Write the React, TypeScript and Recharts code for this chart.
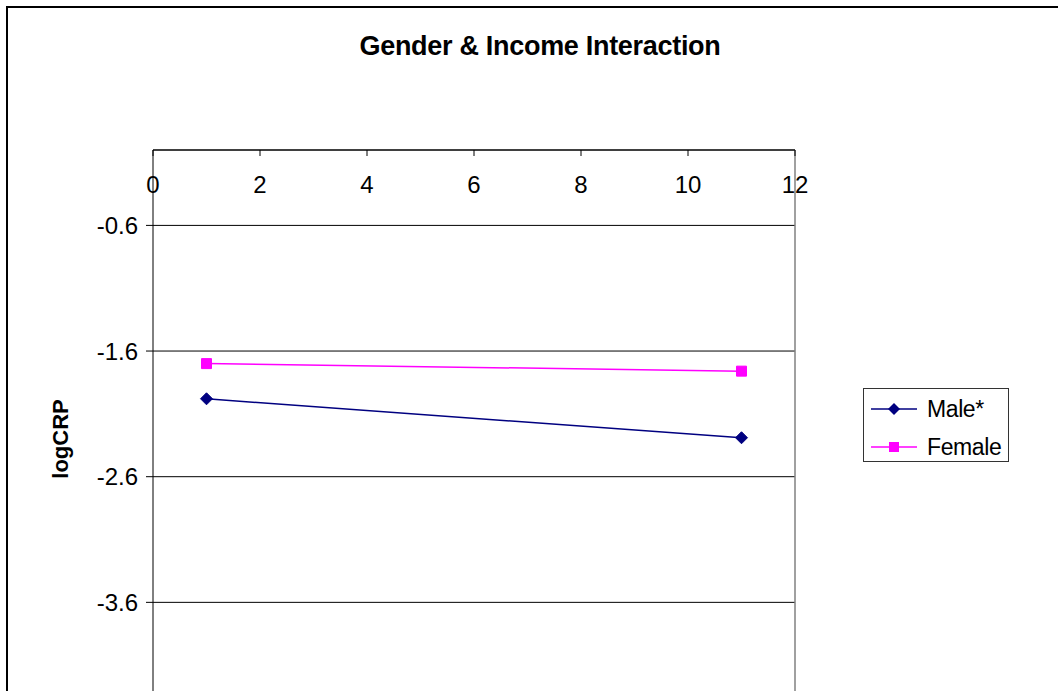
import { CartesianGrid, Line, LineChart, ReferenceLine, XAxis, YAxis } from "recharts";

const INCOME = [1, 11];
const MALE = [-1.98, -2.29];
const FEMALE = [-1.7, -1.76];
const X_TICKS = [0, 2, 4, 6, 8, 10, 12];
const Y_TICKS = [-4.6, -3.6, -2.6, -1.6, -0.6];

const SERIES = [
  { key: "male", name: "Male*", color: "#000080", shape: "diamond" },
  { key: "female", name: "Female", color: "#FF00FF", shape: "square" },
];

const data = INCOME.map((income, i) => ({ income, male: MALE[i], female: FEMALE[i] }));

const FONT = "'Liberation Sans', Arial, sans-serif";

function markerPath(shape: string, cx: number, cy: number) {
  if (shape === "diamond") {
    return `M${cx},${cy - 6}L${cx + 6},${cy}L${cx},${cy + 6}L${cx - 6},${cy}Z`;
  }
  return `M${cx - 5},${cy - 5}h10v10h-10Z`;
}

function makeDot(shape: string, color: string) {
  return (props: any) => {
    const { cx, cy, index } = props;
    if (cx == null || cy == null) return <g key={`d-${shape}-${index}`} />;
    return <path key={`d-${shape}-${index}`} d={markerPath(shape, cx, cy)} fill={color} stroke={color} />;
  };
}

function LegendBox() {
  return (
    <div
      style={{
        position: "absolute",
        left: 863,
        top: 388,
        width: 144,
        height: 72,
        border: "1px solid #333",
        background: "#fff",
      }}
    >
      {SERIES.map((s, i) => (
        <div
          key={s.key}
          style={{ position: "absolute", left: 7, top: 6 + i * 38, height: 28, display: "flex", alignItems: "center" }}
        >
          <svg width={48} height={28}>
            <line x1={0} y1={14} x2={46} y2={14} stroke={s.color} strokeWidth={1.5} />
            <path d={markerPath(s.shape, 23, 14)} fill={s.color} />
          </svg>
          <span style={{ marginLeft: 8, fontSize: 23, fontFamily: FONT, letterSpacing: -0.4, color: "#000" }}>{s.name}</span>
        </div>
      ))}
    </div>
  );
}

export default function App() {
  return (
    <div
      style={{
        position: "absolute",
        left: 0,
        top: 0,
        width: 1058,
        height: 691,
        overflow: "hidden",
        background: "#fff",
        fontFamily: FONT,
      }}
    >
      <div
        style={{
          position: "absolute",
          left: 6,
          top: 6,
          width: 1100,
          height: 800,
          border: "2px solid #000",
        }}
      />
      <div
        style={{
          position: "absolute",
          left: 0,
          top: 31,
          width: 1080,
          textAlign: "center",
          fontSize: 27,
          fontWeight: "bold",
          letterSpacing: -0.3,
          color: "#000",
        }}
      >
        Gender &amp; Income Interaction
      </div>
      <div style={{ position: "absolute", left: 0, top: 0 }}>
        <LineChart width={1058} height={740} data={data} margin={{ top: 150, right: 263, bottom: 12, left: 60 }}>
          <CartesianGrid vertical={false} stroke="#000" strokeWidth={1} />
          <XAxis
            type="number"
            dataKey="income"
            orientation="top"
            mirror
            domain={[0, 12]}
            ticks={X_TICKS}
            allowDataOverflow
            tickSize={6}
            tickMargin={20}
            axisLine={{ stroke: "#000" }}
            tickLine={{ stroke: "#000" }}
            tick={{ fill: "#000", fontSize: 24, fontFamily: FONT }}
          />
          <YAxis
            type="number"
            domain={[-4.6, 0]}
            ticks={Y_TICKS}
            allowDataOverflow
            width={93}
            tickSize={7}
            tickMargin={8}
            axisLine={{ stroke: "#000" }}
            tickLine={{ stroke: "#000" }}
            tick={{ fill: "#000", fontSize: 24, fontFamily: FONT }}
            label={{
              value: "logCRP",
              angle: -90,
              position: "insideLeft",
              offset: 0,
              style: { textAnchor: "middle", fontSize: 22, fontWeight: "bold", fill: "#000", fontFamily: FONT },
            }}
          />
          <ReferenceLine x={12} stroke="#808080" strokeWidth={1.5} />
          {SERIES.map((s) => (
            <Line
              key={s.key}
              dataKey={s.key}
              name={s.name}
              stroke={s.color}
              strokeWidth={1.5}
              dot={makeDot(s.shape, s.color)}
              activeDot={false}
              isAnimationActive={false}
            />
          ))}
        </LineChart>
      </div>
      <LegendBox />
    </div>
  );
}
